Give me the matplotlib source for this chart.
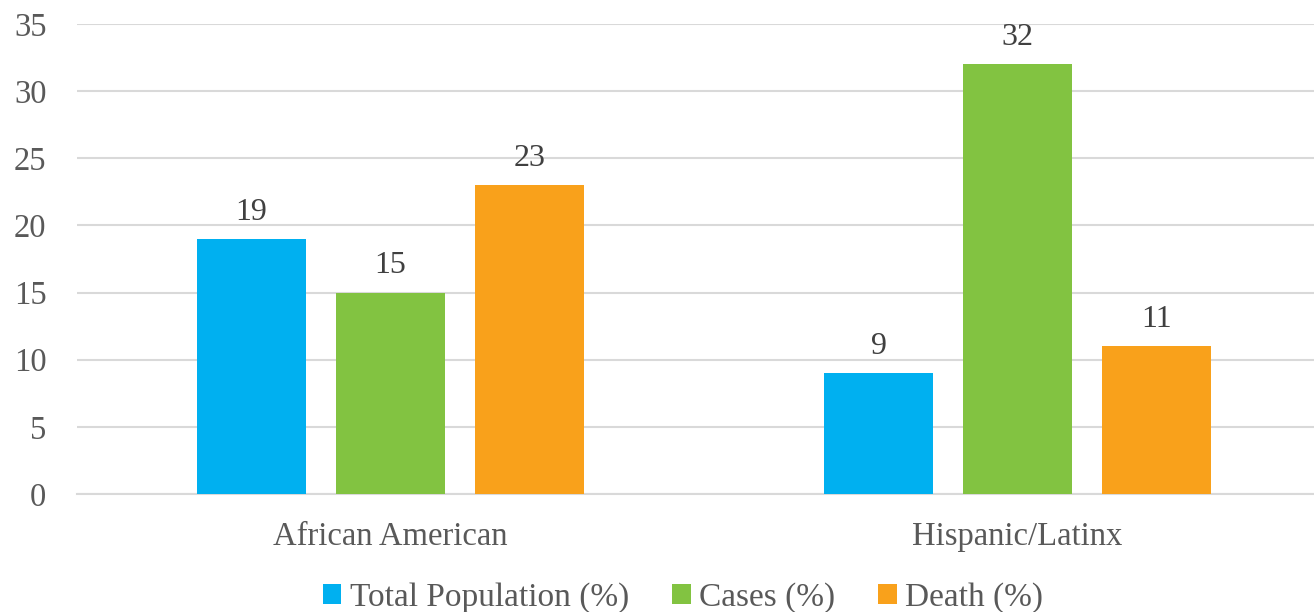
import matplotlib
matplotlib.use("Agg")
import matplotlib.pyplot as plt
import numpy as np

categories = ["African American", "Hispanic/Latinx"]
series_names = ["Total Population (%)", "Cases (%)", "Death (%)"]
total_population = [19, 9]
cases = [15, 32]
death = [23, 11]
colors = ["#00B0F0", "#82C341", "#F9A11B"]
yticks = [0, 5, 10, 15, 20, 25, 30, 35]

plt.rcParams['font.family'] = ['Liberation Serif', 'DejaVu Serif']
W, H = 1314, 612
fig = plt.figure(figsize=(W/100, H/100), dpi=100)
left, right = 77, 1314
bottom_px, top_px = 494, 24
ax = fig.add_axes([left/W, 1 - bottom_px/H, (right-left)/W, (bottom_px-top_px)/H])

cat_w = 627.0
x = np.arange(len(categories))
bw = 109/cat_w
step = 139/cat_w
data = [total_population, cases, death]
for i, (vals, name, c) in enumerate(zip(data, series_names, colors)):
    pos = x + (i-1)*step
    bars = ax.bar(pos, vals, width=bw, color=c, label=name, zorder=3)
    for b, v in zip(bars, vals):
        ax.text(b.get_x()+b.get_width()/2, v + 0.9, f"{v}", ha='center', va='bottom',
                fontsize=23, color='#404040')

ax.set_xlim(-0.5, -0.5 + (right-left)/cat_w)
ax.set_ylim(0, 35)
ax.set_yticks(yticks)
ax.set_xticks(x)
ax.set_xticklabels(categories)
ax.yaxis.grid(True, color='#D9D9D9', linewidth=1.5, zorder=0)
ax.set_axisbelow(True)
for s in ['top', 'right', 'left']:
    ax.spines[s].set_visible(False)
ax.spines['bottom'].set_color('#D9D9D9')
ax.spines['bottom'].set_linewidth(1.5)
ax.tick_params(axis='both', length=0, labelsize=23.5, labelcolor='#595959')
ax.tick_params(axis='y', pad=22)
ax.tick_params(axis='x', pad=20)

leg = fig.legend(loc='center', bbox_to_anchor=(683/W, 1 - 598/H), ncol=3, frameon=False,
                 fontsize=24, handlelength=0.55, handleheight=0.55, handletextpad=0.25,
                 columnspacing=1.3, labelcolor='#595959')
fig.savefig("out.png", dpi=100)
